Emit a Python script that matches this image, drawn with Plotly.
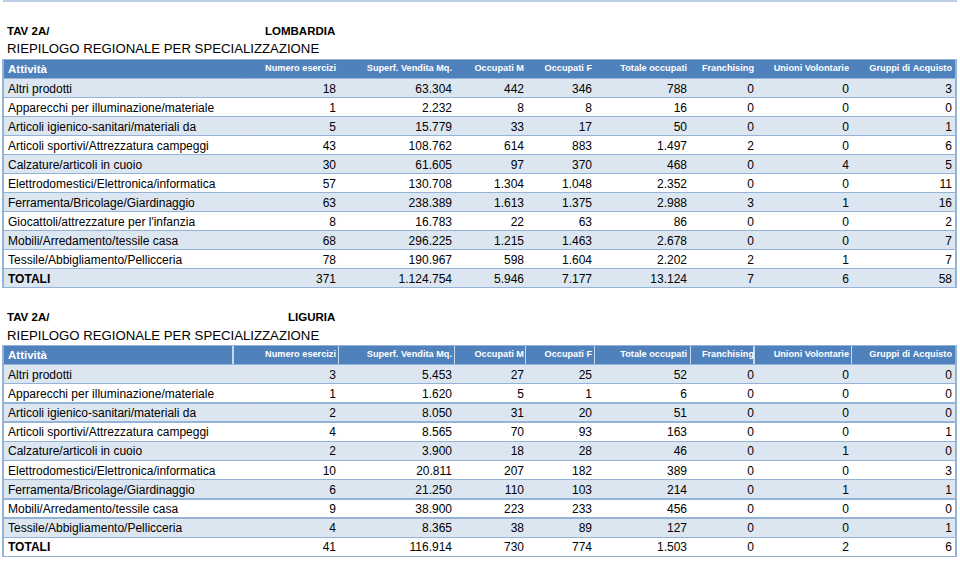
import plotly.graph_objects as go

# ---------------- DATA ----------------
columns = ["Attività", "Numero esercizi", "Superf. Vendita Mq.", "Occupati M", "Occupati F",
           "Totale occupati", "Franchising", "Unioni Volontarie", "Gruppi di Acquisto"]

lom_categories = ["Altri prodotti", "Apparecchi per illuminazione/materiale",
                  "Articoli igienico-sanitari/materiali da", "Articoli sportivi/Attrezzatura campeggi",
                  "Calzature/articoli in cuoio", "Elettrodomestici/Elettronica/informatica",
                  "Ferramenta/Bricolage/Giardinaggio", "Giocattoli/attrezzature per l'infanzia",
                  "Mobili/Arredamento/tessile casa", "Tessile/Abbigliamento/Pellicceria", "TOTALI"]
lom_numero = [18, 1, 5, 43, 30, 57, 63, 8, 68, 78, 371]
lom_superf = [63304, 2232, 15779, 108762, 61605, 130708, 238389, 16783, 296225, 190967, 1124754]
lom_occ_m = [442, 8, 33, 614, 97, 1304, 1613, 22, 1215, 598, 5946]
lom_occ_f = [346, 8, 17, 883, 370, 1048, 1375, 63, 1463, 1604, 7177]
lom_totale = [788, 16, 50, 1497, 468, 2352, 2988, 86, 2678, 2202, 13124]
lom_franch = [0, 0, 0, 2, 0, 0, 3, 0, 0, 2, 7]
lom_unioni = [0, 0, 0, 0, 4, 0, 1, 0, 0, 1, 6]
lom_gruppi = [3, 0, 1, 6, 5, 11, 16, 2, 7, 7, 58]

lig_categories = ["Altri prodotti", "Apparecchi per illuminazione/materiale",
                  "Articoli igienico-sanitari/materiali da", "Articoli sportivi/Attrezzatura campeggi",
                  "Calzature/articoli in cuoio", "Elettrodomestici/Elettronica/informatica",
                  "Ferramenta/Bricolage/Giardinaggio", "Mobili/Arredamento/tessile casa",
                  "Tessile/Abbigliamento/Pellicceria", "TOTALI"]
lig_numero = [3, 1, 2, 4, 2, 10, 6, 9, 4, 41]
lig_superf = [5453, 1620, 8050, 8565, 3900, 20811, 21250, 38900, 8365, 116914]
lig_occ_m = [27, 5, 31, 70, 18, 207, 110, 223, 38, 730]
lig_occ_f = [25, 1, 20, 93, 28, 182, 103, 233, 89, 774]
lig_totale = [52, 6, 51, 163, 46, 389, 214, 456, 127, 1503]
lig_franch = [0, 0, 0, 0, 0, 0, 0, 0, 0, 0]
lig_unioni = [0, 0, 0, 0, 1, 0, 1, 0, 0, 2]
lig_gruppi = [0, 0, 0, 1, 0, 3, 1, 0, 1, 6]

# ---------------- STYLE / LAYOUT ----------------
W, H = 960, 561
FONT = "Liberation Sans, Arial, sans-serif"
HEAD_BLUE = "#4F81BD"
STRIPE = "#DCE6F1"
BORDER = "#95B3D7"
HEAD_SEP = "#C8D8EC"
TRANSP = "rgba(0,0,0,0)"
NB = "\u00a0"
TOTAL_LABEL = "TOTALI"
TEXT_SHIFT = 3  # px: lift text layer so glyphs sit centred in the rows
# grid column widths (px) of the drawn table
grid_col_widths = [230, 106, 116, 71, 69, 96, 64, 98, 104]
# text-layer column widths (px) chosen so right-aligned text lands where the reference has it
text_col_widths = [236, 108, 116, 72, 68, 95, 67, 95, 103]


def fmt(v):
    return f"{v:,}".replace(",", ".")


def nb(s):
    return s.replace(" ", NB)


def ydomain(top_px, bottom_px):
    return [1 - bottom_px / H, 1 - top_px / H]


def build(fig, cats, series, top_px, row_h, head_h, sep_header):
    n = len(cats)
    ncol = len(columns)
    bottom_px = top_px + head_h + row_h * n + 3
    ydom = ydomain(top_px, bottom_px)
    ydom_txt = ydomain(top_px - TEXT_SHIFT, bottom_px - TEXT_SHIFT)
    fills = [STRIPE if i % 2 == 0 else "white" for i in range(n)]

    if sep_header:
        # header band split in the true grid columns (light separators between them)
        sep_colors = [TRANSP] + [HEAD_SEP] * (ncol - 2) + [TRANSP]
        fig.add_trace(go.Table(
            domain=dict(x=[3 / W, 957 / W], y=ydom),
            columnwidth=grid_col_widths,
            header=dict(values=[""] * ncol, fill_color=HEAD_BLUE,
                        line=dict(color=sep_colors, width=1.5), height=head_h),
            cells=dict(values=[[""] * n] * ncol, fill_color=TRANSP,
                       line=dict(color=TRANSP, width=0), height=row_h),
        ))
        head_fill = TRANSP
    else:
        head_fill = HEAD_BLUE
    # row stripes + horizontal separators + outer border
    fig.add_trace(go.Table(
        domain=dict(x=[3 / W, 957 / W], y=ydom),
        columnwidth=[1],
        header=dict(values=[""], fill_color=head_fill, line=dict(color=BORDER, width=1.5),
                    height=head_h),
        cells=dict(values=[[""] * n], fill_color=[fills], line=dict(color=BORDER, width=1.5),
                   height=row_h),
    ))
    # text layer (regular)
    labels = [nb(c) if c != TOTAL_LABEL else "" for c in cats]
    cell_vals = [labels] + [[fmt(v) for v in s] for s in series]
    fig.add_trace(go.Table(
        domain=dict(x=[0, 1], y=ydom_txt),
        columnwidth=text_col_widths,
        header=dict(values=[nb(c) for c in columns],
                    align=["left"] + ["right"] * (ncol - 1),
                    fill_color=TRANSP, line=dict(color=TRANSP, width=0),
                    font=dict(family=FONT, color="white", weight="bold",
                              size=[11.5] + [9.2] * (ncol - 1)),
                    height=head_h),
        cells=dict(values=cell_vals,
                   align=["left"] + ["right"] * (ncol - 1),
                   fill_color=TRANSP, line=dict(color=TRANSP, width=0),
                   font=dict(family=FONT, color="black", size=12),
                   height=row_h),
    ))
    # bold layer for the totals label
    bold_labels = [c if c == TOTAL_LABEL else "" for c in cats]
    fig.add_trace(go.Table(
        domain=dict(x=[0, text_col_widths[0] / W], y=ydom_txt),
        columnwidth=[1],
        header=dict(values=[""], fill_color=TRANSP, line=dict(color=TRANSP, width=0), height=head_h),
        cells=dict(values=[bold_labels], align="left",
                   fill_color=TRANSP, line=dict(color=TRANSP, width=0),
                   font=dict(family=FONT, color="black", size=12, weight="bold"),
                   height=row_h),
    ))


fig = go.Figure()

lom_series = [lom_numero, lom_superf, lom_occ_m, lom_occ_f, lom_totale, lom_franch, lom_unioni, lom_gruppi]
lig_series = [lig_numero, lig_superf, lig_occ_m, lig_occ_f, lig_totale, lig_franch, lig_unioni, lig_gruppi]

build(fig, lom_categories, lom_series, 59.5, 19, 19, False)
build(fig, lig_categories, lig_series, 345.5, 19.2, 19, True)

ann = []
for region, y_tav, y_rie in [("LOMBARDIA", 31, 48.5), ("LIGURIA", 317, 335.5)]:
    ann.append(dict(text="<b>TAV 2A/</b>", x=5 / W, y=1 - y_tav / H, xanchor="left", yanchor="middle",
                    font=dict(family=FONT, size=11.5, color="black")))
    ann.append(dict(text=f"<b>{region}</b>", x=337 / W, y=1 - y_tav / H, xanchor="right", yanchor="middle",
                    font=dict(family=FONT, size=11.5, color="black")))
    ann.append(dict(text="RIEPILOGO REGIONALE PER SPECIALIZZAZIONE", x=5 / W, y=1 - y_rie / H,
                    xanchor="left", yanchor="middle", font=dict(family=FONT, size=13.2, color="black")))
for a in ann:
    a.update(xref="paper", yref="paper", showarrow=False)

fig.update_layout(
    width=W, height=H, margin=dict(l=0, r=0, t=0, b=0),
    paper_bgcolor="white", plot_bgcolor="white",
    annotations=ann,
    shapes=[dict(type="line", xref="paper", yref="paper", x0=3 / W, x1=957 / W,
                 y0=1 - 1 / H, y1=1 - 1 / H, line=dict(color="#A7BFDE", width=1.5))],
)

fig.write_html("out.html", config={"displayModeBar": False},
               post_script="document.body.style.margin='0';document.body.style.overflow='hidden';")
